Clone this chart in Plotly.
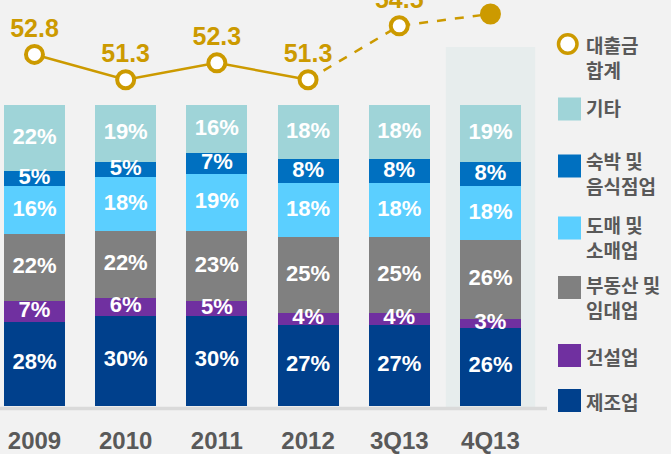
import numpy as np
import plotly.graph_objects as go

# Loan composition by industry (% of total) and total loans
periods = ["2009", "2010", "2011", "2012", "3Q13", "4Q13"]
manufacturing = [28, 30, 30, 27, 27, 26]
construction = [7, 6, 5, 4, 4, 3]
real_estate = [22, 22, 23, 25, 25, 26]
wholesale_retail = [16, 18, 19, 18, 18, 18]
lodging_food = [5, 5, 7, 8, 8, 8]
other = [22, 19, 16, 18, 18, 19]
loan_total = [52.8, 51.3, 52.3, 51.3, 54.5, 55.2]

series_names = ["제조업", "건설업", "부동산 및<br>임대업", "도매 및<br>소매업", "숙박 및<br>음식점업", "기타"]
series_values = [manufacturing, construction, real_estate, wholesale_retail, lodging_food, other]
series_colors = ["#00408c", "#7030a0", "#808080", "#5bcfff", "#0070c0", "#9fd4d8"]
total_name = "대출금<br>합계"

GOLD = "#cc9a00"
BG = "#f2f2f2"
TXT = "#595959"
W, H = 671, 454
PLOT_R, PLOT_B = 547, 406  # plot area right / bottom edge in px


def fx(px):
    return px / W


def fy(py):
    return 1 - py / H


fig = go.Figure()

# stacked bars
for name, vals, col in zip(series_names, series_values, series_colors):
    fig.add_trace(go.Bar(x=periods, y=vals, name=name, marker=dict(color=col, line=dict(width=0)),
                         hoverinfo="skip"))

# percentage labels at the middle of each segment
vals_arr = np.array(series_values, dtype=float)
tops = np.cumsum(vals_arr, axis=0)
mids = tops - vals_arr / 2
for vals, mid in zip(series_values, mids):
    fig.add_trace(go.Scatter(x=periods, y=mid, mode="text", text=[f"{v}%" for v in vals],
                             textfont=dict(family="Liberation Sans, Arial", size=22, color="white",
                                           weight="bold"),
                             hoverinfo="skip", cliponaxis=False))

# loan total line: solid up to 2012, dashed afterwards
fig.add_trace(go.Scatter(x=periods[:4], y=loan_total[:4], mode="lines", yaxis="y2",
                         line=dict(color=GOLD, width=2.5), hoverinfo="skip"))
fig.add_trace(go.Scatter(x=periods[3:], y=loan_total[3:], mode="lines", yaxis="y2",
                         line=dict(color=GOLD, width=2.5, dash="dash"), hoverinfo="skip"))
# the latest (estimated) point is drawn filled and left unlabelled
point_labels = [f"{v:.1f}" for v in loan_total[:-1]] + [""]
fig.add_trace(go.Scatter(
    x=periods, y=loan_total, mode="markers+text", yaxis="y2",
    text=point_labels, textposition="top center",
    textfont=dict(family="Liberation Sans, Arial", size=25, color=GOLD, weight="bold"),
    marker=dict(size=17, color=["white"] * 5 + [GOLD], line=dict(color=GOLD, width=4)),
    hoverinfo="skip"))

shapes = [
    # highlighted latest quarter
    dict(type="rect", xref="x", yref="paper", x0=4.51, x1=5.49, y0=fy(410), y1=fy(47),
         fillcolor="#e7eded", line=dict(width=0), layer="below"),
    # baseline
    dict(type="line", xref="paper", yref="paper", x0=0, x1=fx(PLOT_R), y0=fy(408.5), y1=fy(408.5),
         line=dict(color="#dadada", width=3.5), layer="below"),
    # legend marker for the total line
    dict(type="circle", xref="paper", yref="paper", x0=fx(558.5), x1=fx(577), y0=fy(53.3), y1=fy(34.8),
         fillcolor="white", line=dict(color=GOLD, width=3.5)),
]

annotations = [dict(xref="paper", yref="paper", x=fx(584), y=fy(56.5), xanchor="left", yanchor="middle",
                    align="left", showarrow=False, text=f"<b>{total_name}</b>",
                    font=dict(family="Noto Sans CJK KR", size=19, color=TXT))]

legend_sq_centers = [400.5, 355.5, 287.5, 228, 166, 109]
legend_txt_centers = [401.7, 356.7, 296.5, 236.5, 173, 108]
for name, col, sc, tc in zip(series_names, series_colors, legend_sq_centers, legend_txt_centers):
    shapes.append(dict(type="rect", xref="paper", yref="paper", x0=fx(558), x1=fx(581),
                       y0=fy(sc + 11.5), y1=fy(sc - 11.5), fillcolor=col, line=dict(width=0)))
    annotations.append(dict(xref="paper", yref="paper", x=fx(584), y=fy(tc), xanchor="left",
                            yanchor="middle", align="left", showarrow=False, text=f"<b>{name}</b>",
                            font=dict(family="Noto Sans CJK KR", size=19, color=TXT)))

fig.update_layout(
    width=W, height=H, margin=dict(l=0, r=0, t=0, b=0),
    paper_bgcolor=BG, plot_bgcolor=BG, showlegend=False,
    barmode="stack", bargap=0.331,
    xaxis=dict(type="category", domain=[0, fx(PLOT_R)], range=[-0.378, 5.62], showgrid=False,
               zeroline=False, showline=False, ticks="", automargin=False, ticklabelstandoff=18,
               tickfont=dict(family="Liberation Sans, Arial", size=24, color=TXT, weight="bold")),
    yaxis=dict(domain=[fy(PLOT_B), 1], range=[0, 134.9], visible=False, automargin=False),
    yaxis2=dict(overlaying="y", range=[31.94, 56.03], visible=False, automargin=False),
    shapes=shapes, annotations=annotations,
)

fig.write_html("out.html")
